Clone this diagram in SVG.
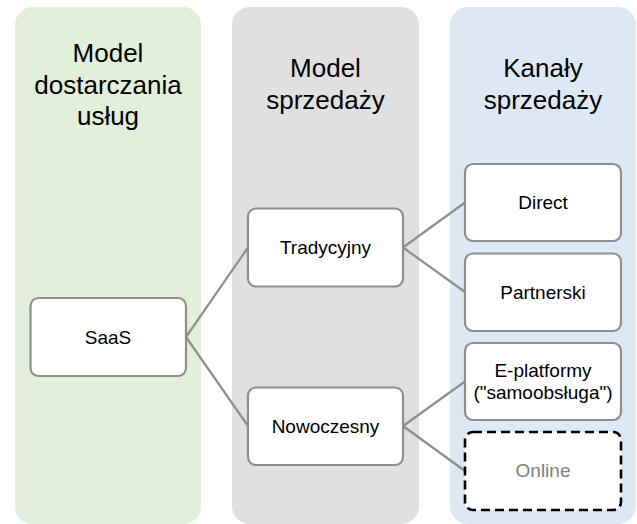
<svg xmlns="http://www.w3.org/2000/svg" width="637" height="524" viewBox="0 0 637 524">
<style>
.col{stroke:none}
.title{font-family:"Liberation Sans",Arial,sans-serif;font-size:26px;fill:#000;text-anchor:middle}
.node rect{fill:#fff;stroke:#8e8e8e;stroke-width:2.2}
.lbl{font-family:"Liberation Sans",Arial,sans-serif;font-size:19px;fill:#000;text-anchor:middle}
.conn line{stroke:#8e8e8e;stroke-width:2.2}
</style>
<rect width="637" height="524" fill="#fff"/>
<g id="col-delivery">
<rect class="col" x="15" y="7" width="186" height="517" rx="18" fill="#e2efda"/>
<text class="title" x="108" y="62">Model</text>
<text class="title" x="108" y="93.5">dostarczania</text>
<text class="title" x="108" y="125">usług</text>
</g>
<g id="col-sales-model">
<rect class="col" x="232" y="7" width="187" height="517" rx="18" fill="#e0e0e0"/>
<text class="title" x="325.5" y="77">Model</text>
<text class="title" x="325.5" y="108.5">sprzedaży</text>
</g>
<g id="col-channels">
<rect class="col" x="450" y="7" width="186" height="517" rx="18" fill="#dee8f4"/>
<text class="title" x="543" y="77">Kanały</text>
<text class="title" x="543" y="108.5">sprzedaży</text>
</g>
<g id="connectors" class="conn">
<line x1="186" y1="337" x2="248" y2="247.5"/>
<line x1="186" y1="337" x2="248" y2="426"/>
<line x1="403" y1="247.5" x2="465" y2="202.5"/>
<line x1="403" y1="247.5" x2="465" y2="292"/>
<line x1="403" y1="426" x2="465" y2="381.5"/>
<line x1="403" y1="426" x2="465" y2="471"/>
</g>
<g id="saas" class="node">
<rect x="30.5" y="298" width="155.5" height="78" rx="8"/>
<text class="lbl" x="108" y="343.5">SaaS</text>
</g>
<g id="tradycyjny" class="node">
<rect x="248" y="208.5" width="155" height="78" rx="8"/>
<text class="lbl" x="325.5" y="254">Tradycyjny</text>
</g>
<g id="nowoczesny" class="node">
<rect x="248" y="387.5" width="155" height="77.5" rx="8"/>
<text class="lbl" x="325.5" y="432.5">Nowoczesny</text>
</g>
<g id="direct" class="node">
<rect x="465" y="164" width="156" height="77" rx="8"/>
<text class="lbl" x="543" y="209">Direct</text>
</g>
<g id="partnerski" class="node">
<rect x="465" y="253.5" width="156" height="77.5" rx="8"/>
<text class="lbl" x="543" y="298.5">Partnerski</text>
</g>
<g id="e-platformy" class="node">
<rect x="465" y="343" width="156" height="77" rx="8"/>
<text class="lbl" x="543" y="376.5">E-platformy</text>
<text class="lbl" x="543" y="399">("samoobsługa")</text>
</g>
<g id="online" class="node">
<rect x="465" y="432" width="156" height="78" rx="8" style="stroke:#000;stroke-width:2.6;stroke-dasharray:9 5"/>
<text class="lbl" x="543" y="477" style="fill:#7f7f7f">Online</text>
</g>
</svg>
